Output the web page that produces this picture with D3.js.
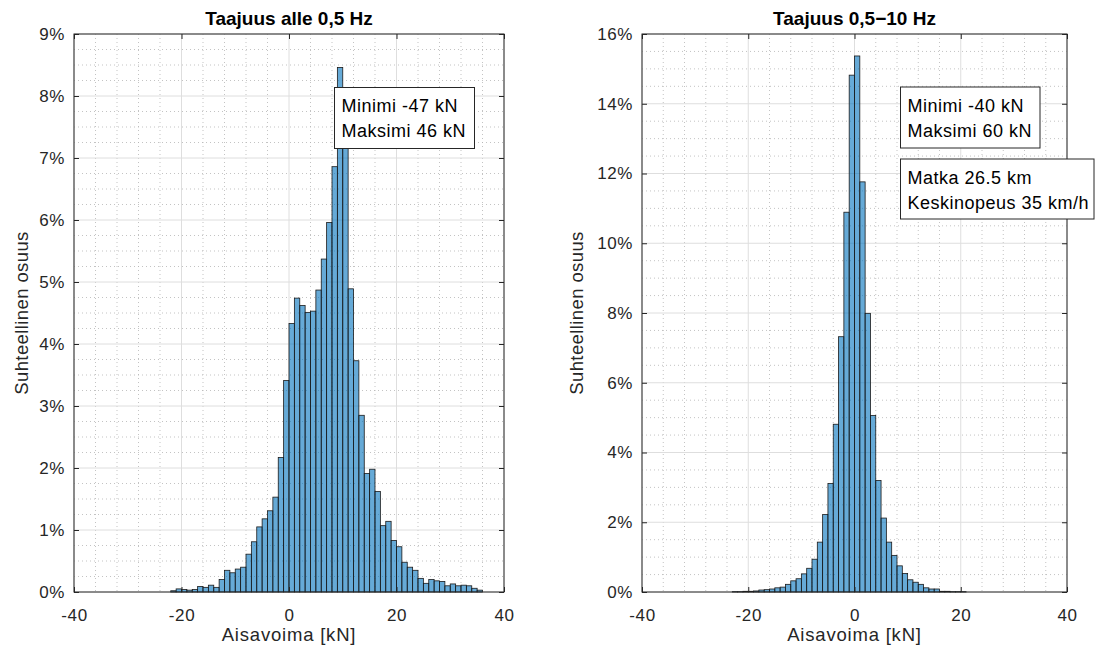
<!DOCTYPE html>
<html>
<head>
<meta charset="utf-8">
<script src="https://cdn.jsdelivr.net/npm/d3@7"></script>
<style>
  body { margin: 0; background: #fff; }
  svg { display: block; font-family: "Liberation Sans", Arial, sans-serif; }
  .tick text { fill: #262626; }
</style>
</head>
<body>
<svg id="chart" width="1095" height="655"></svg>
<script>
// histogram values (percent share per 1 kN bin)
const binWidth = 1;

// left panel: frequency below 0.5 Hz, first bin starts at -22 kN
const lowFirstEdge = -22;
const lowShare = [
  0.02, 0.05, 0.04, 0.03, 0.04, 0.09, 0.075, 0.11, 0.075, 0.2,
  0.35, 0.31, 0.37, 0.40, 0.61, 0.81, 1.05, 1.18, 1.31, 1.53,
  2.17, 3.41, 4.33, 4.74, 4.62, 4.51, 4.53, 4.87, 5.37, 5.96,
  6.86, 8.46, 7.9, 4.89, 3.73, 2.85, 1.91, 1.98, 1.62, 1.07,
  1.14, 0.83, 0.73, 0.48, 0.40, 0.35, 0.22, 0.14, 0.20, 0.18,
  0.17, 0.10, 0.13, 0.10, 0.11, 0.10, 0.06, 0.03
];

// right panel: frequency 0.5-10 Hz, first bin starts at -23 kN
const highFirstEdge = -23;
const highShare = [
  0.01, 0.01, 0.02, 0.02, 0.03, 0.057, 0.067, 0.086, 0.12, 0.14,
  0.22, 0.32, 0.38, 0.52, 0.68, 0.94, 1.43, 2.22, 3.11, 4.81,
  7.32, 10.89, 14.82, 15.37, 11.76, 7.99, 5.06, 3.20, 2.12, 1.43,
  1.05, 0.75, 0.53, 0.35, 0.28, 0.22, 0.12, 0.086, 0.086, 0.02,
  0.02, 0.01, 0.01, 0.01
];

// axis ticks
const xTicks = [-40, -20, 0, 20, 40];
const lowYTicks = [0, 1, 2, 3, 4, 5, 6, 7, 8, 9];
const highYTicks = [0, 2, 4, 6, 8, 10, 12, 14, 16];

// texts
const lowTitle = 'Taajuus alle 0,5 Hz';
const highTitle = 'Taajuus 0,5\u221210 Hz';
const xLabel = 'Aisavoima [kN]';
const yLabel = 'Suhteellinen osuus';
const lowBoxLines = ['Minimi -47 kN', 'Maksimi 46 kN'];
const highBoxLines = ['Minimi -40 kN', 'Maksimi 60 kN'];
const tripBoxLines = ['Matka 26.5 km', 'Keskinopeus 35 km/h'];

const svg = d3.select('#chart');
const axisColor = '#262626';

function drawPanel(opts) {
  const { left, right, top, bottom } = opts;
  const x = d3.scaleLinear().domain([-40, 40]).range([left, right]);
  const y = d3.scaleLinear().domain([0, opts.yMax]).range([bottom, top]);
  const g = svg.append('g');

  // minor grid (dotted)
  const xMinor = d3.range(-40, 40.001, 4).filter(v => !xTicks.includes(v));
  const yMinor = d3.range(0, opts.yMax + 1e-9, opts.yMinorStep)
    .filter(v => Math.abs(v / opts.yMajorStep - Math.round(v / opts.yMajorStep)) > 1e-6);
  g.selectAll('.xminor').data(xMinor).enter().append('line')
    .attr('x1', d => x(d)).attr('x2', d => x(d))
    .attr('y1', top).attr('y2', bottom)
    .attr('stroke', '#b4b4b4').attr('stroke-width', 0.8).attr('stroke-dasharray', '1,3');
  g.selectAll('.yminor').data(yMinor).enter().append('line')
    .attr('x1', left).attr('x2', right)
    .attr('y1', d => y(d)).attr('y2', d => y(d))
    .attr('stroke', '#b4b4b4').attr('stroke-width', 0.8).attr('stroke-dasharray', '1,3');

  // major grid
  g.selectAll('.xmajor').data(xTicks).enter().append('line')
    .attr('x1', d => x(d)).attr('x2', d => x(d))
    .attr('y1', top).attr('y2', bottom)
    .attr('stroke', '#dedede').attr('stroke-width', 1);
  g.selectAll('.ymajor').data(opts.yTicks).enter().append('line')
    .attr('x1', left).attr('x2', right)
    .attr('y1', d => y(d)).attr('y2', d => y(d))
    .attr('stroke', '#dedede').attr('stroke-width', 1);

  // bars
  const bins = opts.share.map((v, i) => ({ x0: opts.firstEdge + i * binWidth, v: v }));
  g.selectAll('.bar').data(bins).enter().append('rect')
    .attr('x', d => x(d.x0))
    .attr('width', d => x(d.x0 + binWidth) - x(d.x0))
    .attr('y', d => y(d.v))
    .attr('height', d => y(0) - y(d.v))
    .attr('fill', '#0072BD').attr('fill-opacity', 0.6)
    .attr('stroke', '#1a1a1a').attr('stroke-width', 0.8);

  // axes (ticks inward on all sides)
  const fmtPct = d => d + '%';
  const xAxis = g.append('g').attr('transform', `translate(0,${bottom})`)
    .call(d3.axisBottom(x).tickValues(xTicks).tickSizeInner(-5).tickSizeOuter(0).tickPadding(17)
      .tickFormat(d => String(d)));
  g.append('g').attr('transform', `translate(0,${top})`)
    .call(d3.axisTop(x).tickValues(xTicks).tickSizeInner(-5).tickSizeOuter(0).tickFormat(''));
  const yAxis = g.append('g').attr('transform', `translate(${left},0)`)
    .call(d3.axisLeft(y).tickValues(opts.yTicks).tickSizeInner(-5).tickSizeOuter(0).tickPadding(9).tickFormat(fmtPct));
  g.append('g').attr('transform', `translate(${right},0)`)
    .call(d3.axisRight(y).tickValues(opts.yTicks).tickSizeInner(-5).tickSizeOuter(0).tickFormat(''));
  g.selectAll('.domain').remove();
  g.selectAll('.tick line').attr('stroke', axisColor);
  xAxis.selectAll('text').attr('font-size', 17).attr('letter-spacing', 0.6).attr('dy', '0.71em');
  yAxis.selectAll('text').attr('font-size', 17).attr('letter-spacing', 0.6);

  // axes box
  g.append('rect')
    .attr('x', left).attr('y', top)
    .attr('width', right - left).attr('height', bottom - top)
    .attr('fill', 'none').attr('stroke', axisColor).attr('stroke-width', 1);

  // title and labels
  g.append('text')
    .attr('x', (left + right) / 2).attr('y', 25)
    .attr('text-anchor', 'middle')
    .attr('font-size', 19).attr('font-weight', 'bold').attr('fill', '#000')
    .text(opts.title);
  g.append('text')
    .attr('x', (left + right) / 2).attr('y', 641)
    .attr('text-anchor', 'middle')
    .attr('font-size', 18.5).attr('letter-spacing', 0.8).attr('fill', axisColor)
    .text(xLabel);
  g.append('text')
    .attr('transform', `translate(${opts.yLabelX},${(top + bottom) / 2}) rotate(-90)`)
    .attr('text-anchor', 'middle')
    .attr('font-size', 18.5).attr('letter-spacing', 0.4).attr('fill', axisColor)
    .text(yLabel);
}

// text box annotation
function drawBox(bx, by, bw, bh, lines) {
  svg.append('rect')
    .attr('x', bx).attr('y', by).attr('width', bw).attr('height', bh)
    .attr('fill', '#fff').attr('stroke', axisColor).attr('stroke-width', 1);
  svg.selectAll(null).data(lines).enter().append('text')
    .attr('x', bx + 7)
    .attr('y', (d, i) => by + 24.5 + i * 25)
    .attr('font-size', 18).attr('letter-spacing', 0.5).attr('fill', '#000')
    .text(d => d);
}

drawPanel({
  left: 74, right: 504, top: 34, bottom: 592,
  yMax: 9, yTicks: lowYTicks, yMajorStep: 1, yMinorStep: 0.25,
  share: lowShare, firstEdge: lowFirstEdge,
  title: lowTitle, yLabelX: 28
});
drawPanel({
  left: 642, right: 1067, top: 34, bottom: 592,
  yMax: 16, yTicks: highYTicks, yMajorStep: 2, yMinorStep: 0.5,
  share: highShare, firstEdge: highFirstEdge,
  title: highTitle, yLabelX: 583
});

drawBox(334.5, 87.5, 140, 61, lowBoxLines);
drawBox(900.5, 87, 139.5, 61, highBoxLines);
drawBox(900.5, 159, 193.5, 60, tripBoxLines);
</script>
</body>
</html>
